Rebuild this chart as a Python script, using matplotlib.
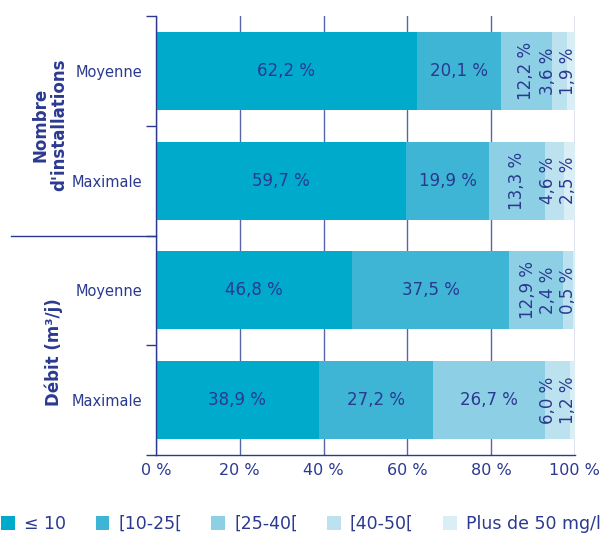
import matplotlib as mpl
import numpy as np
mpl.use('Agg')
import matplotlib.pyplot as plt
from matplotlib.lines import Line2D

# donnees
lignes = ['Moyenne', 'Maximale', 'Moyenne', 'Maximale']
groupes = ["Nombre\nd'installations", 'Débit (m³/j)']
classes = ['≤ 10', '[10-25[', '[25-40[', '[40-50[', 'Plus de 50 mg/l']
v_inf10 = [62.2, 59.7, 46.8, 38.9]
v_10_25 = [20.1, 19.9, 37.5, 27.2]
v_25_40 = [12.2, 13.3, 12.9, 26.7]
v_40_50 = [3.6, 4.6, 2.4, 6.0]
v_sup50 = [1.9, 2.5, 0.5, 1.2]
xticks = [0, 20, 40, 60, 80, 100]

couleurs = ['#00aacb', '#3fb5d6', '#8dcfe5', '#bce2ef', '#daeef6']
navy = '#2b3990'
plt.rcParams['font.family'] = ['DejaVu Sans']

series = [v_inf10, v_10_25, v_25_40, v_40_50, v_sup50]
y = np.arange(len(lignes))

fig = plt.figure(figsize=(6.02, 5.36), dpi=100)
ax = fig.add_axes([0.259, 0.151, 0.696, 0.819])

gauche = np.zeros(len(lignes))
for vals, c, nom in zip(series, couleurs, classes):
    ax.barh(y, vals, left=gauche, height=0.71, color=c, label=nom, zorder=2)
    gauche = gauche + np.array(vals)

# etiquettes de valeurs
for i in range(len(lignes)):
    vals = [s[i] for s in series]
    bords = np.concatenate([[0], np.cumsum(vals)])
    suivant = 100 - 1.6 + 4.8
    pos = {}
    for k in range(len(vals) - 1, -1, -1):
        centre = (bords[k] + bords[k + 1]) / 2
        if vals[k] >= 15:
            break
        pos[k] = min(centre, suivant - 4.8)
        suivant = pos[k]
    for k, v in enumerate(vals):
        txt = f'{v:.1f} %'.replace('.', ',')
        if k in pos:
            ax.text(pos[k], y[i], txt, rotation=90, ha='center', va='center',
                    color=navy, fontsize=12, zorder=3)
        else:
            ax.text((bords[k] + bords[k + 1]) / 2, y[i], txt, ha='center',
                    va='center', color=navy, fontsize=12, zorder=3)

ax.set_xlim(0, 100)
ax.set_ylim(3.5, -0.5)
ax.set_xticks(xticks)
ax.set_xticklabels([f'{t} %' for t in xticks], color=navy, fontsize=11.5)
ax.tick_params(axis='x', length=0, pad=6)
ax.grid(axis='x', color='#5a64a8', lw=1, zorder=1)

ax.set_yticks(np.arange(-0.5, 4, 1))
ax.set_yticklabels([])
ax.tick_params(axis='y', which='major', length=7, width=1, color=navy, direction='out')
ax.set_yticks(y, minor=True)
ax.set_yticklabels(lignes, minor=True, color=navy, fontsize=10.5)
ax.tick_params(axis='y', which='minor', length=0, pad=10)

for s in ['top', 'right']:
    ax.spines[s].set_visible(False)
for s in ['left', 'bottom']:
    ax.spines[s].set_color(navy)
    ax.spines[s].set_linewidth(1)

# separateur entre les deux groupes
ax.add_line(Line2D([-0.345, 0], [1.5, 1.5], transform=ax.get_yaxis_transform(),
                   color=navy, lw=1, clip_on=False))

fig.text(0.083, 1 - 125 / 536, groupes[0], rotation=90, ha='center', va='center',
         color=navy, fontsize=12, fontweight='bold', linespacing=1.1)
fig.text(0.09, 1 - 352 / 536, groupes[1], rotation=90, ha='center', va='center',
         color=navy, fontsize=12, fontweight='bold')

fig.legend(loc='center', bbox_to_anchor=(0.5, 1 - 524 / 536), ncol=5, frameon=False,
           fontsize=12.5, handlelength=0.8, handleheight=0.8, handletextpad=0.5,
           columnspacing=1.7, labelcolor=navy)

plt.savefig('out.png')
